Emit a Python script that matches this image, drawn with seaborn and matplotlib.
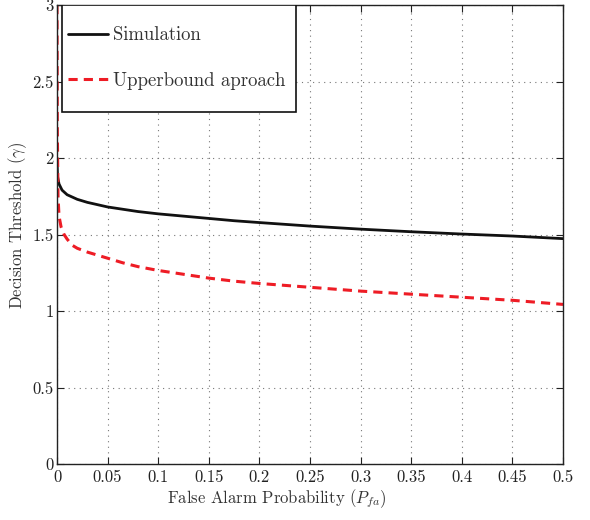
import numpy as np
import pandas as pd
import matplotlib
matplotlib.use("Agg")
import matplotlib.pyplot as plt
from matplotlib.patches import Rectangle
import seaborn as sns

# Simulation curve
sim_x = [0.0, 0.0005, 0.002, 0.005, 0.01, 0.02, 0.03, 0.04, 0.05, 0.065, 0.08, 0.1,
         0.125, 0.15, 0.175, 0.2, 0.25, 0.3, 0.35, 0.4, 0.45, 0.5]
sim_y = [2.0, 1.88, 1.83, 1.79, 1.76, 1.73, 1.71, 1.695, 1.68, 1.665, 1.65, 1.635,
         1.62, 1.605, 1.59, 1.578, 1.555, 1.535, 1.518, 1.503, 1.49, 1.473]

# Upperbound approach curve
ub_x = [0.0, 0.0003, 0.001, 0.002, 0.004, 0.007, 0.01, 0.015, 0.02, 0.03, 0.04, 0.05,
        0.065, 0.08, 0.1, 0.125, 0.15, 0.175, 0.2, 0.25, 0.3, 0.35, 0.4, 0.45, 0.5]
ub_y = [3.0, 2.2, 1.75, 1.62, 1.55, 1.5, 1.47, 1.43, 1.41, 1.385, 1.365, 1.345,
        1.315, 1.29, 1.265, 1.24, 1.215, 1.195, 1.18, 1.155, 1.13, 1.11, 1.09, 1.07, 1.043]

x_ticks = [0, 0.05, 0.1, 0.15, 0.2, 0.25, 0.3, 0.35, 0.4, 0.45, 0.5]
x_labels = ["0", "0.05", "0.1", "0.15", "0.2", "0.25", "0.3", "0.35", "0.4", "0.45", "0.5"]
y_ticks = [0, 0.5, 1, 1.5, 2, 2.5, 3]
y_labels = ["0", "0.5", "1", "1.5", "2", "2.5", "3"]

sns.set_style("ticks")
plt.rcParams["font.family"] = ["cmr10", "DejaVu Serif"]
plt.rcParams["mathtext.fontset"] = "cm"
plt.rcParams["axes.formatter.use_mathtext"] = True

fig = plt.figure(figsize=(5.9, 5.2), dpi=100)
ax = fig.add_axes([57/590, 56/520, (563-57)/590, (464-5)/520])

sim_df = pd.DataFrame({"x": sim_x, "y": sim_y})
ub_df = pd.DataFrame({"x": ub_x, "y": ub_y})

sns.lineplot(data=sim_df, x="x", y="y", ax=ax, color="#111111", lw=2.0,
             label="Simulation", sort=False, estimator=None)
sns.lineplot(data=ub_df, x="x", y="y", ax=ax, color="#ee1c25", lw=2.2,
             linestyle=(0, (3, 2)), label="Upperbound aproach", sort=False, estimator=None)

ax.set_xlim(0, 0.5)
ax.set_ylim(0, 3)
ax.set_xticks(x_ticks)
ax.set_xticklabels(x_labels)
ax.set_yticks(y_ticks)
ax.set_yticklabels(y_labels)
ax.tick_params(direction="in", top=True, right=True, labelsize=12, length=5,
               width=0.8, colors="#222222")
ax.tick_params(axis="x", pad=4)
ax.tick_params(axis="y", pad=2.5)
ax.grid(True, linestyle=(0, (1, 4)), color="#777777", lw=0.8)
for s in ax.spines.values():
    s.set_visible(True)
    s.set_color("#222222")
    s.set_linewidth(1.0)

ax.set_xlabel(r"False Alarm Probability ($P_{fa}$)", fontsize=12, color="#333333")
ax.set_ylabel(r"Decision Threshold ($\gamma$)", fontsize=12, color="#333333")
ax.xaxis.set_label_coords(0.435, -0.050)
ax.yaxis.set_label_coords(-0.056, 0.519)

# legend frame drawn as a box at the upper left
box = Rectangle((0.01, 0.767), 0.462, 0.233, transform=ax.transAxes,
                facecolor="white", edgecolor="#111111", lw=1.2, zorder=4)
ax.add_patch(box)
leg = ax.legend(loc="upper left", bbox_to_anchor=(0.022, 0.953), fontsize=13.5,
                frameon=False, handlelength=2.1, handletextpad=0.3,
                labelspacing=1.45, borderpad=0.0, borderaxespad=0.0)
leg.set_zorder(5)
for t in leg.get_texts():
    t.set_color("#333333")

fig.savefig("out.png", dpi=100)
